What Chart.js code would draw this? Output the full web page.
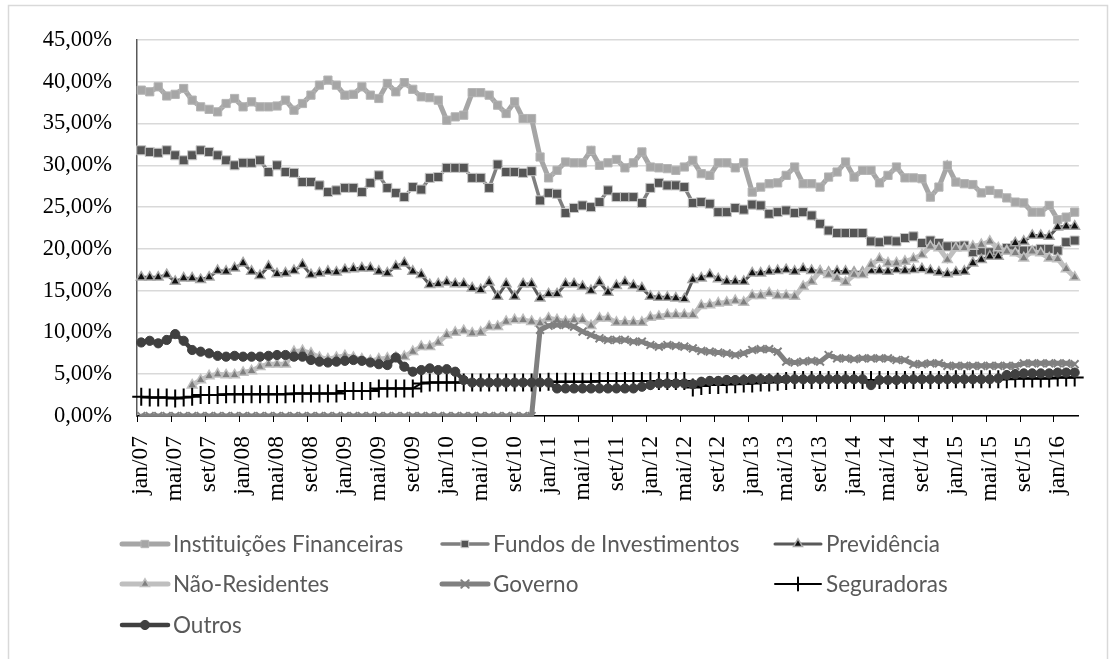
<!DOCTYPE html>
<html>
<head>
<meta charset="utf-8">
<script src="https://cdn.jsdelivr.net/npm/chart.js@4"></script>
<style>
  html, body { margin: 0; padding: 0; background: #fff; }
  #wrap { width: 1115px; height: 659px; position: relative; }
</style>
</head>
<body>
<div id="wrap"><canvas id="c" width="1115" height="659"></canvas></div>
<script>
// ---- categories (monthly, jan/07 .. mar/16) ----
const months = [
 'jan/07','fev/07','mar/07','abr/07','mai/07','jun/07','jul/07','ago/07','set/07','out/07','nov/07','dez/07',
 'jan/08','fev/08','mar/08','abr/08','mai/08','jun/08','jul/08','ago/08','set/08','out/08','nov/08','dez/08',
 'jan/09','fev/09','mar/09','abr/09','mai/09','jun/09','jul/09','ago/09','set/09','out/09','nov/09','dez/09',
 'jan/10','fev/10','mar/10','abr/10','mai/10','jun/10','jul/10','ago/10','set/10','out/10','nov/10','dez/10',
 'jan/11','fev/11','mar/11','abr/11','mai/11','jun/11','jul/11','ago/11','set/11','out/11','nov/11','dez/11',
 'jan/12','fev/12','mar/12','abr/12','mai/12','jun/12','jul/12','ago/12','set/12','out/12','nov/12','dez/12',
 'jan/13','fev/13','mar/13','abr/13','mai/13','jun/13','jul/13','ago/13','set/13','out/13','nov/13','dez/13',
 'jan/14','fev/14','mar/14','abr/14','mai/14','jun/14','jul/14','ago/14','set/14','out/14','nov/14','dez/14',
 'jan/15','fev/15','mar/15','abr/15','mai/15','jun/15','jul/15','ago/15','set/15','out/15','nov/15','dez/15',
 'jan/16','fev/16','mar/16'
];

// ---- tick labels shown on the x axis ----
const tickLabels = [
 'jan/07','mai/07','set/07','jan/08','mai/08','set/08','jan/09','mai/09','set/09','jan/10','mai/10','set/10',
 'jan/11','mai/11','set/11','jan/12','mai/12','set/12','jan/13','mai/13','set/13','jan/14','mai/14','set/14',
 'jan/15','mai/15','set/15','jan/16'
];

// ---- y-axis ticks (%) ----
const yTicks = [0, 5, 10, 15, 20, 25, 30, 35, 40, 45];

// ---- series values (% of total) ----
const instituicoesFinanceiras = [
 39.0,38.8,39.4,38.3,38.5,39.2,37.8,37.0,36.7,36.4,37.4,38.0,
 37.0,37.6,37.0,37.0,37.1,37.8,36.6,37.4,38.4,39.6,40.2,39.6,
 38.4,38.5,39.4,38.4,38.0,39.8,38.8,39.9,39.1,38.2,38.1,37.8,
 35.4,35.8,36.0,38.7,38.7,38.4,37.2,36.2,37.6,35.6,35.6,31.0,
 28.5,29.4,30.4,30.3,30.3,31.8,30.0,30.3,30.7,29.7,30.3,31.6,
 29.8,29.7,29.6,29.4,29.8,30.6,29.0,28.8,30.3,30.3,29.7,30.3,
 26.8,27.4,27.8,27.9,28.8,29.8,27.8,27.8,27.4,28.6,29.2,30.4,
 28.6,29.4,29.4,27.9,28.8,29.8,28.5,28.5,28.4,26.2,27.4,30.0,
 28.0,27.8,27.7,26.7,27.0,26.6,26.1,25.6,25.5,24.4,24.4,25.2,
 23.5,23.8,24.4
];
const fundosInvestimentos = [
 31.8,31.6,31.5,31.8,31.2,30.6,31.2,31.8,31.6,31.2,30.6,30.0,
 30.3,30.3,30.6,29.2,30.0,29.2,29.1,28.0,28.0,27.6,26.8,27.0,
 27.3,27.3,26.8,27.9,28.8,27.3,26.7,26.2,27.4,27.1,28.5,28.6,
 29.7,29.7,29.7,28.5,28.5,27.3,30.1,29.2,29.2,29.1,29.3,25.8,
 26.7,26.6,24.3,24.9,25.2,25.0,25.6,27.0,26.2,26.2,26.2,25.5,
 27.3,27.9,27.6,27.6,27.4,25.5,25.6,25.4,24.4,24.4,24.9,24.7,
 25.3,25.2,24.2,24.4,24.6,24.3,24.4,24.0,23.0,22.2,21.9,21.9,
 21.9,21.9,20.9,20.8,21.0,20.9,21.3,21.5,20.7,21.0,20.7,20.3,
 20.3,20.4,19.6,19.8,19.6,19.8,20.1,20.4,19.8,19.8,20.0,20.0,
 19.8,20.8,21.0
];
const previdencia = [
 16.6,16.6,16.6,16.9,16.1,16.5,16.5,16.3,16.6,17.4,17.3,17.7,
 18.3,17.3,16.8,17.9,17.0,17.1,17.4,18.1,16.9,17.1,17.3,17.2,
 17.5,17.6,17.7,17.7,17.3,17.1,17.9,18.3,17.3,16.9,15.7,15.8,
 16.0,15.8,15.8,15.3,15.1,16.0,14.3,15.8,14.3,15.8,15.8,14.1,
 14.6,14.6,15.8,15.8,15.5,15.0,16.0,14.8,15.6,16.0,15.6,15.3,
 14.3,14.2,14.2,14.1,14.0,16.3,16.5,16.9,16.4,16.1,16.1,16.1,
 17.1,17.1,17.3,17.4,17.5,17.3,17.6,17.4,17.3,17.2,17.3,17.3,
 17.2,17.2,17.4,17.4,17.3,17.5,17.4,17.5,17.6,17.4,17.2,17.0,
 17.2,17.3,18.3,18.7,19.1,19.1,19.8,20.7,20.9,21.6,21.6,21.5,
 22.6,22.7,22.7
];
const naoResidentes = [
 null,null,null,null,null,null,3.7,4.3,4.8,5.0,4.9,4.9,
 5.2,5.4,5.9,6.2,6.2,6.2,7.7,7.8,7.5,7.0,6.8,7.0,
 7.2,7.0,6.8,6.6,6.8,6.9,7.0,7.1,7.7,8.3,8.3,8.8,
 9.7,10.0,10.2,9.9,10.0,10.7,10.7,11.3,11.5,11.5,11.3,11.1,
 11.7,11.5,11.3,11.5,11.5,10.8,11.7,11.7,11.2,11.2,11.2,11.2,
 11.8,11.9,12.1,12.1,12.1,12.1,13.2,13.3,13.5,13.6,13.8,13.6,
 14.4,14.4,14.7,14.4,14.4,14.3,15.5,16.1,17.3,16.9,16.5,16.0,
 16.9,16.9,18.1,18.8,18.3,18.3,18.5,18.8,19.3,20.3,20.1,18.7,
 20.1,20.1,20.3,20.5,20.9,20.1,19.7,19.5,18.9,19.7,19.5,18.9,
 18.8,17.6,16.6
];
const governo = [
 0,0,0,0,0,0,0,0,0,0,0,0,
 0,0,0,0,0,0,0,0,0,0,0,0,
 0,0,0,0,0,0,0,0,0,0,0,0,
 0,0,0,0,0,0,0,0,0,0,0,10.3,
 10.8,10.9,10.9,10.7,10.1,9.7,9.3,9.1,9.1,9.1,8.9,8.9,
 8.5,8.3,8.5,8.4,8.3,8.1,7.8,7.7,7.6,7.5,7.3,7.5,
 7.9,8.0,8.0,7.7,6.5,6.4,6.5,6.6,6.5,7.3,6.9,6.9,
 6.8,6.9,6.9,6.9,6.9,6.7,6.7,6.2,6.2,6.3,6.3,6.0,
 6.0,6.0,6.0,6.0,6.0,6.0,6.0,6.0,6.3,6.3,6.3,6.3,
 6.3,6.3,6.2
];
const seguradoras = [
 2.3,2.2,2.2,2.2,2.1,2.2,2.3,2.5,2.5,2.5,2.6,2.6,
 2.6,2.6,2.6,2.6,2.6,2.6,2.7,2.7,2.7,2.7,2.7,2.7,
 3.0,3.0,3.0,3.0,3.3,3.3,3.3,3.3,3.3,3.9,4.0,4.0,
 4.0,4.0,4.0,4.0,4.0,4.0,4.0,4.0,4.0,4.0,4.0,4.0,
 4.1,4.1,4.1,4.1,4.1,4.1,4.2,4.2,4.2,4.2,4.2,4.2,
 4.2,4.2,4.2,4.2,4.2,3.4,3.6,3.7,3.7,3.8,3.8,3.9,
 3.9,4.0,4.0,4.1,4.2,4.3,4.3,4.3,4.3,4.3,4.3,4.3,
 4.3,4.3,4.3,4.3,4.3,4.3,4.3,4.3,4.3,4.3,4.3,4.3,
 4.4,4.4,4.4,4.4,4.4,4.4,4.4,4.5,4.5,4.5,4.5,4.5,
 4.6,4.6,4.6
];
const outros = [
 8.8,9.0,8.7,9.1,9.8,9.0,7.9,7.7,7.5,7.2,7.1,7.2,
 7.1,7.1,7.1,7.2,7.3,7.3,7.1,7.1,6.7,6.5,6.4,6.5,
 6.6,6.7,6.6,6.4,6.2,6.1,7.0,5.9,5.3,5.5,5.7,5.5,
 5.6,5.3,4.3,4.0,4.0,4.0,4.0,4.0,4.0,4.0,4.0,4.0,
 4.0,3.3,3.3,3.3,3.3,3.3,3.3,3.3,3.3,3.3,3.3,3.5,
 3.7,3.9,3.9,3.9,3.9,3.8,4.1,4.2,4.2,4.3,4.3,4.3,
 4.4,4.4,4.4,4.4,4.4,4.4,4.4,4.4,4.4,4.4,4.4,4.4,
 4.4,4.4,3.7,4.3,4.3,4.3,4.4,4.4,4.4,4.4,4.4,4.4,
 4.4,4.4,4.4,4.4,4.4,4.5,4.9,5.0,5.1,5.1,5.1,5.1,
 5.2,5.2,5.2
];

const seriesNames = ['Instituições Financeiras','Fundos de Investimentos','Previdência',
                     'Não-Residentes','Governo','Seguradoras','Outros'];

// ---- styles ----
const styles = [
  {line:'#a6a6a6', lw:5,   fill:'#a6a6a6', stroke:'#b4b4b4', shape:'rect',     r:5.8, bw:1},
  {line:'#7f7f7f', lw:3.5, fill:'#555555', stroke:'#c8c8c8', shape:'rect',     r:6.4, bw:1},
  {line:'#595959', lw:3,   fill:'#111111', stroke:'#a6a6a6', shape:'triangle', r:5.6, bw:1.5},
  {line:'#bfbfbf', lw:5,   fill:'#7f7f7f', stroke:'#bfbfbf', shape:'triangle', r:5.6, bw:1.5},
  {line:'#808080', lw:5,   fill:'#808080', stroke:'#808080', shape:'crossRot', r:5.5, bw:2},
  {line:'#000000', lw:2,   fill:'#000000', stroke:'#000000', shape:'cross',    r:9,   bw:2},
  {line:'#404040', lw:4.5, fill:'#404040', stroke:'#404040', shape:'circle',   r:4.6, bw:1}
];
const seriesData = [instituicoesFinanceiras, fundosInvestimentos, previdencia,
                    naoResidentes, governo, seguradoras, outros];

const datasets = seriesData.map((d, k) => ({
  label: seriesNames[k],
  data: d,
  borderColor: styles[k].line,
  borderWidth: styles[k].lw,
  backgroundColor: styles[k].fill,
  pointStyle: styles[k].shape,
  pointRadius: styles[k].r,
  pointBorderWidth: styles[k].bw,
  pointBackgroundColor: styles[k].fill,
  pointBorderColor: styles[k].stroke,
  tension: 0,
  spanGaps: false,
  order: 7 - k
}));

// ---- custom drawing helpers ----
function marker(ctx, shape, x, y, r, fill, stroke, bw) {
  ctx.save();
  ctx.fillStyle = fill; ctx.strokeStyle = stroke; ctx.lineWidth = bw;
  ctx.beginPath();
  if (shape === 'rect') {
    const s = Math.SQRT1_2 * r;
    ctx.rect(x - s, y - s, 2 * s, 2 * s); ctx.fill(); ctx.stroke();
  } else if (shape === 'triangle') {
    ctx.moveTo(x, y - r);
    ctx.lineTo(x + Math.sin(2*Math.PI/3) * r, y + 0.5 * r);
    ctx.lineTo(x - Math.sin(2*Math.PI/3) * r, y + 0.5 * r);
    ctx.closePath(); ctx.fill(); ctx.stroke();
  } else if (shape === 'circle') {
    ctx.arc(x, y, r, 0, Math.PI * 2); ctx.fill(); ctx.stroke();
  } else if (shape === 'cross') {
    ctx.moveTo(x, y - r); ctx.lineTo(x, y + r);
    ctx.moveTo(x - r, y); ctx.lineTo(x + r, y); ctx.stroke();
  } else if (shape === 'crossRot') {
    const d = Math.SQRT1_2 * r;
    ctx.moveTo(x - d, y - d); ctx.lineTo(x + d, y + d);
    ctx.moveTo(x + d, y - d); ctx.lineTo(x - d, y + d); ctx.stroke();
  }
  ctx.restore();
}

const framePlugin = {
  id: 'frame',
  beforeDraw(chart) {
    const ctx = chart.ctx;
    ctx.save();
    ctx.fillStyle = '#ffffff';
    ctx.fillRect(0, 0, chart.width, chart.height);
    ctx.strokeStyle = '#d9d9d9';
    ctx.lineWidth = 1.5;
    ctx.strokeRect(8.5, 5.5, 1099, 700);
    ctx.restore();
  }
};

const xTickMarks = {
  id: 'xTickMarks',
  afterDraw(chart) {
    const xs = chart.scales.x, ctx = chart.ctx;
    const half = (xs.getPixelForValue(1) - xs.getPixelForValue(0)) / 2;
    const y0 = chart.chartArea.bottom;
    ctx.save();
    ctx.strokeStyle = '#000'; ctx.lineWidth = 1;
    months.forEach((m, i) => {
      if (tickLabels.includes(m)) {
        const x = Math.round(xs.getPixelForValue(i) - half) + 0.5;
        ctx.beginPath(); ctx.moveTo(x, y0); ctx.lineTo(x, y0 + 6); ctx.stroke();
      }
    });
    ctx.restore();
  }
};

const legendPlugin = {
  id: 'customLegend',
  afterDraw(chart) {
    const ctx = chart.ctx;
    const cols = [120, 440, 773];
    const rows = [544, 584, 625];
    ctx.save();
    ctx.font = '22.5px Lato';
    ctx.textBaseline = 'middle';
    seriesNames.forEach((name, k) => {
      const x = cols[k % 3], y = rows[Math.floor(k / 3)];
      const st = styles[k];
      ctx.strokeStyle = st.line; ctx.lineWidth = st.lw; ctx.lineCap = 'round';
      ctx.beginPath(); ctx.moveTo(x + 2, y); ctx.lineTo(x + 48, y); ctx.stroke();
      const mr = st.shape === 'cross' ? 6.5 : Math.min(st.r, 5.2);
      marker(ctx, st.shape, x + 25, y, mr, st.fill, st.stroke, st.bw);
      ctx.fillStyle = '#595959';
      ctx.fillText(name, x + 53, y + 1);
    });
    ctx.restore();
  }
};

new Chart(document.getElementById('c'), {
  type: 'line',
  data: { labels: months, datasets: datasets },
  plugins: [framePlugin, xTickMarks, legendPlugin],
  options: {
    responsive: false,
    animation: false,
    devicePixelRatio: 1,
    layout: { padding: { left: 0, right: 28, top: 40, bottom: 143 } },
    plugins: { legend: { display: false }, tooltip: { enabled: false } },
    scales: {
      x: {
        type: 'category',
        offset: true,
        grid: { display: false },
        border: { display: true, color: '#000000', width: 1.5 },
        ticks: {
          autoSkip: false,
          minRotation: 90, maxRotation: 90,
          padding: 12,
          color: '#000',
          font: { family: 'Liberation Serif', size: 23.5 },
          callback: function(v, i) { return tickLabels.includes(months[i]) ? months[i] : ''; }
        },
        afterFit(scale) { scale.height = 100; }
      },
      y: {
        min: yTicks[0], max: yTicks[yTicks.length - 1],
        afterBuildTicks(scale) { scale.ticks = yTicks.map(v => ({ value: v })); },
        grid: { color: '#d9d9d9', lineWidth: 1.5, drawTicks: false },
        border: { display: true, color: '#595959', width: 1.5 },
        ticks: {
          padding: 25,
          color: '#000',
          font: { family: 'Liberation Serif', size: 22.5 },
          callback: v => v.toFixed(2).replace('.', ',') + '%'
        },
        afterFit(scale) { scale.width = 137; }
      }
    }
  }
});
</script>
</body>
</html>
